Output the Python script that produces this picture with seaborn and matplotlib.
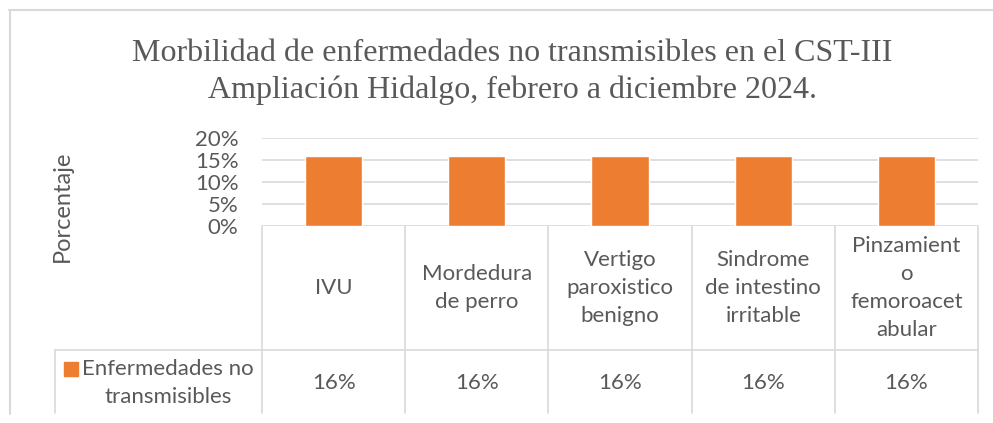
import seaborn as sns
import matplotlib.pyplot as plt
import matplotlib.transforms as mtransforms
from matplotlib.ticker import PercentFormatter
from matplotlib.patches import Rectangle
import pandas as pd

# data
categorias = ["IVU", "Mordedura\nde perro", "Vertigo\nparoxistico\nbenigno",
              "Sindrome\nde intestino\nirritable", "Pinzamient\no\nfemoroacet\nabular"]
valores = [0.16, 0.16, 0.16, 0.16, 0.16]
serie = "Enfermedades no\ntransmisibles"
titulo = "Morbilidad de enfermedades no transmisibles en el CST-III\nAmpliación Hidalgo, febrero a diciembre 2024."

df = pd.DataFrame({"cat": categorias, "valor": valores})

W, H = 993, 423
naranja = "#ED7D31"
gris_txt = "#595959"
gris_lin = "#D9D9D9"

sns.set_style("white")
plt.rcParams['font.family'] = ['Lato', 'DejaVu Sans']

fig = plt.figure(figsize=(W / 100, H / 100), dpi=100)
fy = lambda p: 1 - p / H
fx = lambda p: p / W

ax = fig.add_axes([fx(262), fy(226), fx(978) - fx(262), fy(138) - fy(226)])
sns.barplot(data=df, x="cat", y="valor", color=naranja, width=0.4,
            saturation=1, ax=ax, zorder=3)
ax.set_xlim(-0.5, len(categorias) - 0.5)
ax.set_ylim(0, 0.20)
ax.set_yticks([0, 0.05, 0.10, 0.15, 0.20])
ax.yaxis.set_major_formatter(PercentFormatter(1.0, decimals=0))
ax.grid(axis="y", color=gris_lin, linewidth=1.2, zorder=0)
ax.set_axisbelow(True)
for s in ax.spines.values():
    s.set_visible(False)
ax.set_xticks([])
ax.set_xlabel("")
ax.set_ylabel("")
ax.tick_params(axis="y", length=0, pad=17, labelsize=16, labelcolor=gris_txt)

fig.text(fx(62), fy(206), "Porcentaje", rotation=90, ha="center", va="center",
         fontsize=17, color=gris_txt)

fig.text(fx(512), fy(72), titulo, ha="center", va="center", fontsize=23,
         color=gris_txt, family="Liberation Serif", linespacing=1.3)

# tabla de datos
bt = mtransforms.blended_transform_factory(ax.transData, fig.transFigure)
n = len(categorias)
y_top, y_mid, y_bot = fy(226), fy(350), fy(413)
for i in range(n + 1):
    x = i - 0.5
    ax.plot([x, x], [y_top, y_bot], color=gris_lin, lw=1.2, transform=bt, clip_on=False)
fig.add_artist(plt.Line2D([fx(55), fx(978)], [y_mid, y_mid], color=gris_lin, lw=1.2))
fig.add_artist(plt.Line2D([fx(55), fx(55)], [y_mid, y_bot], color=gris_lin, lw=1.2))

for i, (c, v) in enumerate(zip(categorias, valores)):
    ax.text(i, fy(288), c, transform=bt, ha="center", va="center", fontsize=16,
            color=gris_txt, linespacing=1.5, multialignment="center")
    ax.text(i, fy(383), f"{v:.0%}", transform=bt, ha="center", va="center",
            fontsize=16, color=gris_txt)

fig.add_artist(Rectangle((fx(64), fy(376)), fx(14), fy(362) - fy(376),
                         color=naranja, transform=fig.transFigure))
fig.text(fx(168), fy(383), serie, ha="center", va="center", fontsize=16,
         color=gris_txt, linespacing=1.5, multialignment="center")

# marco
fig.add_artist(plt.Line2D([fx(9), fx(993)], [fy(10), fy(10)], color=gris_lin, lw=1.5))
fig.add_artist(plt.Line2D([fx(10), fx(10)], [fy(10), fy(414)], color=gris_lin, lw=1.5))

fig.savefig("out.png", dpi=100)
